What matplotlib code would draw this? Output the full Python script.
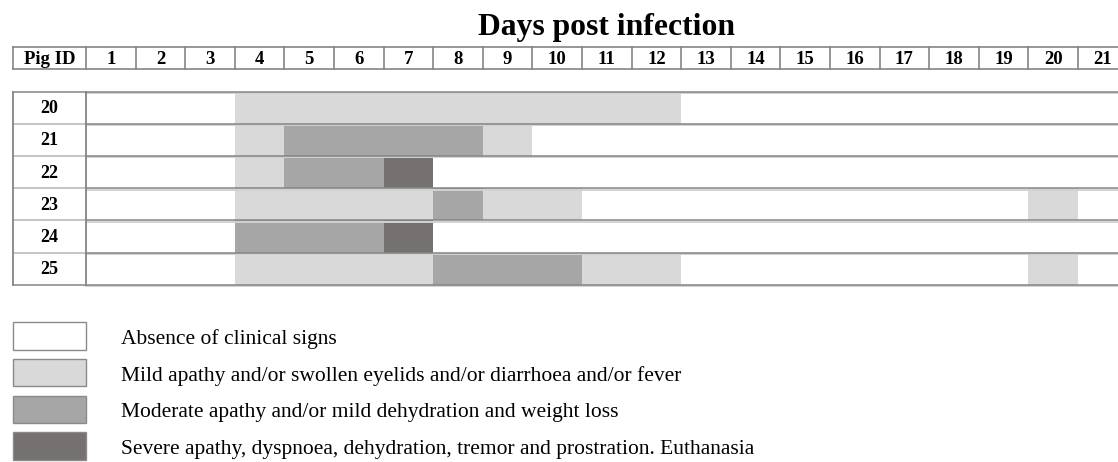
import matplotlib
matplotlib.use("Agg")
import matplotlib.pyplot as plt

# Clinical score per pig and day (0 none, 1 mild, 2 moderate, 3 severe)
days = list(range(1, 22))
pig_ids = ["20", "21", "22", "23", "24", "25"]
scores = {
    "20": [0, 0, 0, 1, 1, 1, 1, 1, 1, 1, 1, 1, 0, 0, 0, 0, 0, 0, 0, 0, 0],
    "21": [0, 0, 0, 1, 2, 2, 2, 2, 1, 0, 0, 0, 0, 0, 0, 0, 0, 0, 0, 0, 0],
    "22": [0, 0, 0, 1, 2, 2, 3, 0, 0, 0, 0, 0, 0, 0, 0, 0, 0, 0, 0, 0, 0],
    "23": [0, 0, 0, 1, 1, 1, 1, 2, 1, 1, 0, 0, 0, 0, 0, 0, 0, 0, 0, 1, 0],
    "24": [0, 0, 0, 2, 2, 2, 3, 0, 0, 0, 0, 0, 0, 0, 0, 0, 0, 0, 0, 0, 0],
    "25": [0, 0, 0, 1, 1, 1, 1, 2, 2, 2, 1, 1, 0, 0, 0, 0, 0, 0, 0, 1, 0],
}
levels = [
    "Absence of clinical signs",
    "Mild apathy and/or swollen eyelids and/or diarrhoea and/or fever",
    "Moderate apathy and/or mild dehydration and weight loss",
    "Severe apathy, dyspnoea, dehydration, tremor and prostration. Euthanasia",
]
level_colors = ["#ffffff", "#d9d9d9", "#a6a6a6", "#757170"]

# layout (x in day units, y in pixels from the top)
COL_W = 49.6                 # px per day
X0 = -86 / COL_W             # left figure edge
X1 = (1118 - 86) / COL_W     # right figure edge
ID_L = -(86 - 13) / COL_W    # left edge of the Pig ID column
HEAD_T, HEAD_B = 47, 69
ROW_T, ROW_H = 91.5, 32.2
LEG_T, LEG_STEP, LEG_H = 322, 36.8, 27.5

plt.rcParams["font.family"] = ["Liberation Serif", "DejaVu Serif"]

fig = plt.figure(figsize=(11.18, 4.62), dpi=100)
ax = fig.add_axes([0, 0, 1, 1])
ax.set_xlim(X0, X1)
ax.set_ylim(462, 0)
ax.axis("off")

dark, light = "#858585", "#d2d2d2"

# title, centred over the day columns
ax.text(len(days) / 2, 27, "Days post infection", ha="center",
        va="center", fontsize=22.8, fontweight="bold")

# header row
ax.plot([ID_L, X1 + 1], [HEAD_T, HEAD_T], color=dark, lw=1.2)
ax.plot([ID_L, X1 + 1], [HEAD_B, HEAD_B], color=dark, lw=1.2)
ax.plot([ID_L, ID_L], [HEAD_T, HEAD_B], color=dark, lw=1.2)
for d in [0] + days:
    ax.plot([d, d], [HEAD_T, HEAD_B], color=dark, lw=1.2)
ax.text(ID_L / 2, (HEAD_T + HEAD_B) / 2 + 1, "Pig ID", ha="center",
        va="center", fontsize=13.5, fontweight="bold")
for d in days:
    ax.text(d - 0.5, (HEAD_T + HEAD_B) / 2 + 1, str(d), ha="center",
            va="center", fontsize=13.5, fontweight="bold")

# bars
for i, pig in enumerate(pig_ids):
    yc = ROW_T + (i + 0.5) * ROW_H
    for d, s in zip(days, scores[pig]):
        if s:
            ax.barh(yc, 1, left=d - 1, height=ROW_H, color=level_colors[s],
                    linewidth=0, zorder=1)
    ax.text(ID_L / 2, yc + 1, pig, ha="center", va="center", fontsize=13,
            fontweight="bold")

# row lines
for i in range(len(pig_ids) + 1):
    y = ROW_T + i * ROW_H
    ax.plot([0, X1 + 1], [y + 1.5, y + 1.5], color=light, lw=1.4, zorder=2)
    ax.plot([0, X1 + 1], [y, y], color=dark, lw=1.1, zorder=3)
    ax.plot([ID_L, 0], [y, y], color="#b5b5b5" if 0 < i < len(pig_ids)
            else dark, lw=1.1, zorder=3)
ax.plot([ID_L, ID_L], [ROW_T, ROW_T + len(pig_ids) * ROW_H], color=dark,
        lw=1.3, zorder=3)
ax.plot([0, 0], [ROW_T, ROW_T + len(pig_ids) * ROW_H], color=dark,
        lw=1.3, zorder=3)

# legend
for k, (lab, c) in enumerate(zip(levels, level_colors)):
    yt = LEG_T + k * LEG_STEP
    ax.barh(yt + LEG_H / 2, -ID_L, left=ID_L, height=LEG_H, color=c,
            edgecolor="#8a8a8a", linewidth=1.0)
    ax.text(35 / COL_W, yt + LEG_H / 2 + 3, lab, ha="left", va="center",
            fontsize=15.5)

fig.savefig("out.png", dpi=100)
